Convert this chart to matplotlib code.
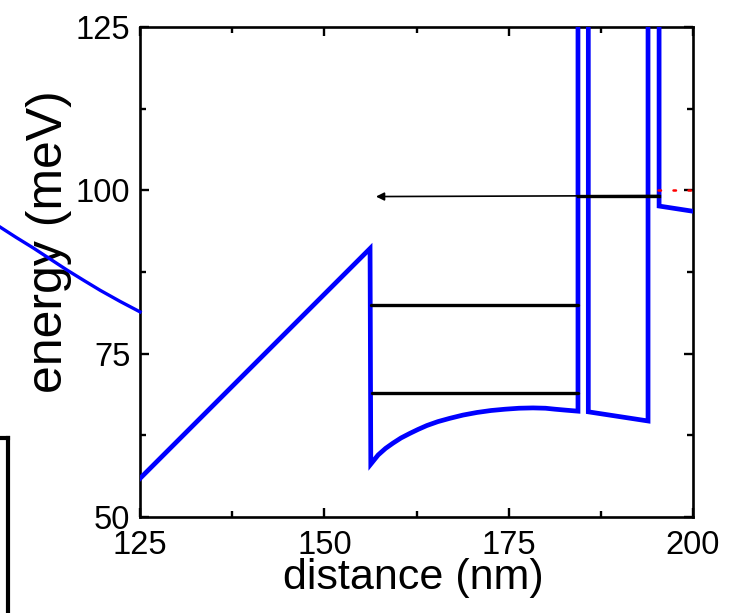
import matplotlib
matplotlib.use("Agg")
import matplotlib.pyplot as plt
from matplotlib import font_manager

# ---------------- data ----------------
# conduction band profile (distance nm, energy meV)
band_x = [125.0, 156.2, 156.3, 157.3, 158.3, 159.3, 160.4, 161.6, 162.7, 163.9, 165.4,
          167.0, 168.8, 170.7, 172.6, 174.5, 176.4, 178.3, 180.0, 181.3, 182.8,
          184.4, 184.4, 185.8, 185.8, 193.9, 193.9, 195.4, 195.4, 200.0]
band_y = [55.9, 91.1, 58.1, 59.5, 60.5, 61.3, 62.1, 62.8, 63.4, 64.0, 64.6,
          65.1, 65.6, 66.0, 66.3, 66.5, 66.65, 66.7, 66.65, 66.5, 66.35,
          66.2, 300.0, 300.0, 66.1, 64.7, 300.0, 300.0, 97.6, 96.8]

# confined levels: (start, end, energy)
level_start = [156.3, 156.5]
level_end = [184.4, 184.4]
level_energy = [82.4, 69.0]

# upper level and transition arrow
upper_level_x = [184.4, 195.4]
upper_level_y = [99.1, 99.1]
arrow_from = (195.4, 99.2)
arrow_to = (157.0, 99.05)

# red dotted level
red_x = [195.3, 200.0]
red_y = [100.05, 100.05]

# neighbouring-panel curve seen left of the axes
neighbour_x = [106.0, 108.2, 110.5, 112.8, 115.1, 117.4, 119.6, 122.3, 125.0]
neighbour_y = [94.4, 92.8, 91.2, 89.5, 87.8, 86.2, 84.7, 83.0, 81.4]

x_ticks = [125, 150, 175, 200]
y_ticks = [50, 75, 100, 125]

# ---------------- fonts ----------------
names = {f.name for f in font_manager.fontManager.ttflist}
base = "Liberation Sans" if "Liberation Sans" in names else "DejaVu Sans"
narrow = "Liberation Sans Narrow" in names

fig = plt.figure(figsize=(7.4, 6.13), dpi=100)
ax = fig.add_axes([0.1892, 0.1566, 0.7473, 0.7993])

blue = "#0000ff"
ax.plot(band_x, band_y, color=blue, lw=3.4, solid_joinstyle="miter", zorder=3)
for xs, xe, e in zip(level_start, level_end, level_energy):
    ax.plot([xs, xe], [e, e], color="black", lw=2.4, solid_capstyle="round", zorder=4)
ax.plot(upper_level_x, upper_level_y, color="black", lw=2.4, zorder=4)
ax.annotate("", xy=arrow_to, xytext=arrow_from,
            arrowprops=dict(arrowstyle="-|>", color="black", lw=1.2,
                            mutation_scale=12, shrinkA=0, shrinkB=0), zorder=5)
ax.plot(red_x, red_y, color="red", lw=1.8, linestyle=(0, (1, 5)),
        dash_capstyle="round", zorder=5)
ax.plot(neighbour_x, neighbour_y, color=blue, lw=2.4, clip_on=False, zorder=3)

ax.set_xlim(125, 200)
ax.set_ylim(50, 125)
ax.set_xticks(x_ticks)
ax.set_yticks(y_ticks)
ax.set_xticks([137.5, 162.5, 187.5], minor=True)
ax.set_yticks([62.5, 87.5, 112.5], minor=True)
ax.tick_params(which="both", direction="in", top=True, right=True, width=1.7)
ax.tick_params(which="major", length=6.5)
ax.tick_params(which="minor", length=4.5)
ax.tick_params(axis="x", which="major", pad=9, labelsize=23.5)
ax.tick_params(axis="y", which="major", pad=7, labelsize=23.5)
for lab in ax.get_xticklabels() + ax.get_yticklabels():
    lab.set_fontfamily(base)
for s in ax.spines.values():
    s.set_linewidth(1.9)

if narrow:
    ax.set_xlabel("distance (nm)", fontsize=35, fontfamily="Liberation Sans Narrow")
else:
    ax.set_xlabel("distance (nm)", fontsize=31, fontfamily=base)
ax.xaxis.set_label_coords(0.4946, -0.084)
ax.set_ylabel("energy (meV)", fontsize=36, fontfamily=base)
ax.yaxis.set_label_coords(-0.123, 0.563)

# frame of a neighbouring panel (bottom left)
ax_other = fig.add_axes([-0.3, -0.2, 0.3108, 0.4855])
ax_other.set_xticks([])
ax_other.set_yticks([])
for s in ax_other.spines.values():
    s.set_linewidth(3.0)

fig.savefig("out.png", dpi=100)
